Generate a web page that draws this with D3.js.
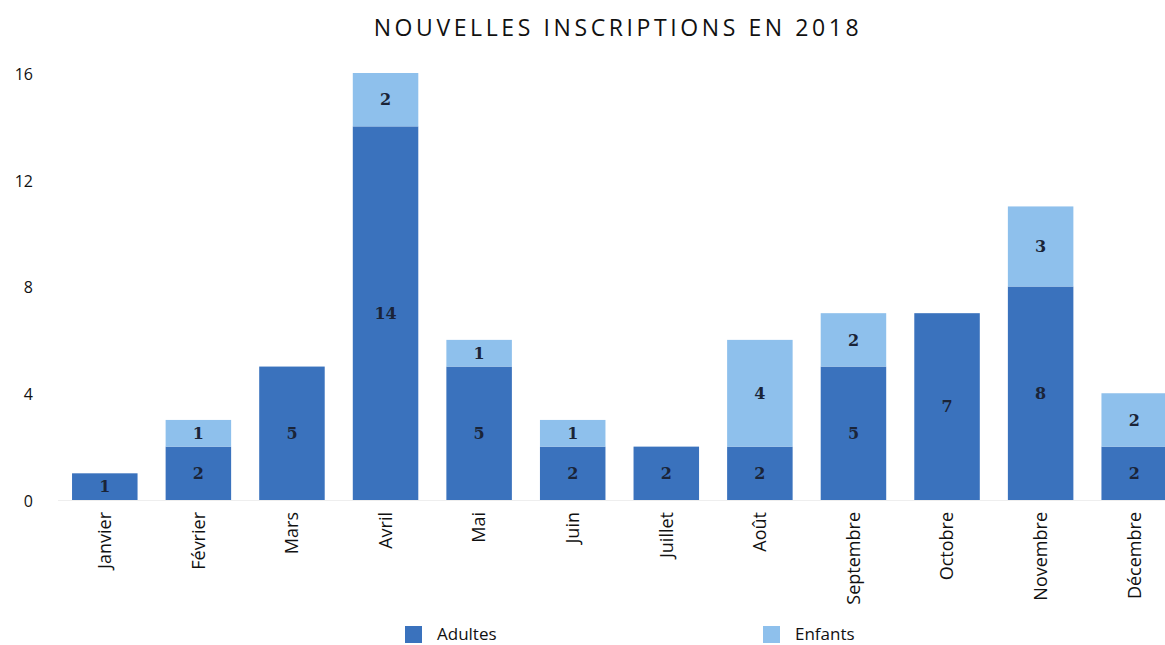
<!DOCTYPE html>
<html>
<head>
<meta charset="utf-8">
<script src="https://cdn.jsdelivr.net/npm/d3@7"></script>
<style>
  body { margin: 0; background: #fff; }
  svg { display: block; }
</style>
</head>
<body>
<div id="chart"></div>
<script>
// données
const months = ['Janvier', 'Février', 'Mars', 'Avril', 'Mai', 'Juin', 'Juillet', 'Août', 'Septembre', 'Octobre', 'Novembre', 'Décembre']
const adultes = [1, 2, 5, 14, 5, 2, 2, 2, 5, 7, 8, 2]
const enfants = [0, 1, 0, 2, 1, 1, 0, 4, 2, 0, 3, 2]
const yTicks = [0, 4, 8, 12, 16]
const seriesNames = ['Adultes', 'Enfants']

const width = 1165, height = 645
const color = ['#3a72bd', '#8ec0ec']
const font = '"Open Sans", "DejaVu Sans", sans-serif'

const svg = d3.select('#chart')
  .append('svg')
  .attr('width', width)
  .attr('height', height)

// titre
svg.append('text')
  .attr('x', 618)
  .attr('y', 36)
  .attr('text-anchor', 'middle')
  .attr('font-family', font)
  .attr('font-size', 23)
  .attr('letter-spacing', 3.6)
  .attr('fill', '#111')
  .text('NOUVELLES INSCRIPTIONS EN 2018')

const x = d3.scaleBand()
  .domain(months)
  .range([58, 1181])
  .paddingInner(0.3)
  .paddingOuter(0.15)

const y = d3.scaleLinear()
  .domain([0, 16])
  .range([500, 73])

// table empilée
const table = months.map((m, i) => ({ month: m, Adultes: adultes[i], Enfants: enfants[i] }))
const stacked = d3.stack().keys(seriesNames)(table)

// axe Y (sans ligne)
const yAxis = svg.append('g')
  .attr('transform', 'translate(33,0)')
  .call(d3.axisLeft(y).tickValues(yTicks).tickSize(0).tickPadding(0))
yAxis.select('.domain').remove()
yAxis.selectAll('text')
  .attr('font-family', font)
  .attr('font-size', 16)
  .attr('fill', '#111')
  .attr('dy', '0.4em')

// ligne de base très claire
svg.append('line')
  .attr('x1', 58).attr('x2', width)
  .attr('y1', y(0) + 0.5).attr('y2', y(0) + 0.5)
  .attr('stroke', '#eeeeee')

// barres
stacked.forEach((layer, k) => {
  const g = svg.append('g').attr('class', 'serie-' + k)
  g.selectAll('rect')
    .data(layer.filter(d => d[1] - d[0] > 0))
    .enter()
    .append('rect')
    .attr('x', d => x(d.data.month))
    .attr('y', d => y(d[1]))
    .attr('width', x.bandwidth())
    .attr('height', d => y(d[0]) - y(d[1]))
    .attr('fill', color[k])

  g.selectAll('text')
    .data(layer.filter(d => d[1] - d[0] > 0))
    .enter()
    .append('text')
    .attr('x', d => x(d.data.month) + x.bandwidth() / 2)
    .attr('y', d => (y(d[0]) + y(d[1])) / 2)
    .attr('dy', '0.36em')
    .attr('text-anchor', 'middle')
    .attr('font-family', '"DejaVu Serif", serif')
    .attr('font-weight', 'bold')
    .attr('font-size', 16)
    .attr('fill', '#1a2438')
    .text(d => d[1] - d[0])
})

// axe X, étiquettes verticales
const xAxis = svg.append('g')
  .attr('transform', 'translate(0,' + y(0) + ')')
  .call(d3.axisBottom(x).tickSize(0).tickPadding(0))
xAxis.select('.domain').remove()
xAxis.selectAll('text')
  .attr('font-family', font)
  .attr('font-size', 18)
  .attr('fill', '#111')
  .attr('text-anchor', 'end')
  .attr('transform', 'rotate(-90)')
  .attr('x', -12)
  .attr('y', 0)
  .attr('dy', '0.35em')

// légende
const legendX = [405, 763]
seriesNames.forEach((name, k) => {
  svg.append('rect')
    .attr('x', legendX[k])
    .attr('y', 626)
    .attr('width', 17)
    .attr('height', 17)
    .attr('fill', color[k])
  svg.append('text')
    .attr('x', legendX[k] + 32)
    .attr('y', 640)
    .attr('font-family', font)
    .attr('font-size', 17)
    .attr('fill', '#111')
    .text(name)
})
</script>
</body>
</html>
